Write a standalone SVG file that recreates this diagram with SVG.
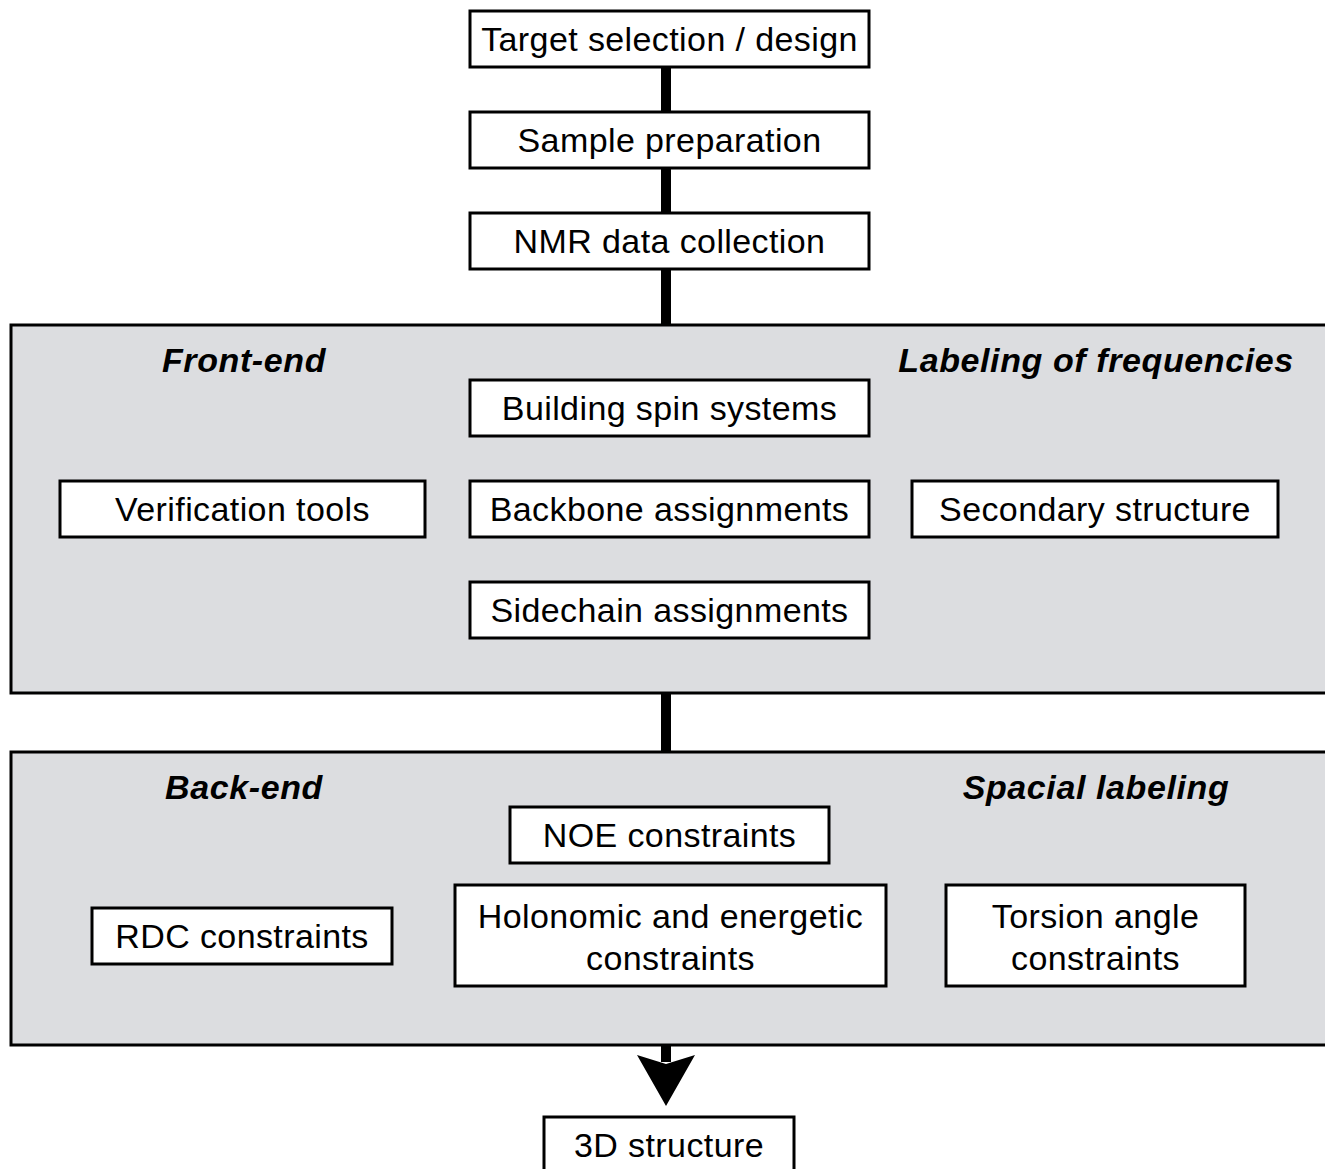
<svg xmlns="http://www.w3.org/2000/svg" width="1325" height="1169" viewBox="0 0 1325 1169">
<style>
.panel{fill:#dcdde0;stroke:#000;stroke-width:3}
.box{fill:#fff;stroke:#000;stroke-width:3}
.t{font-family:"Liberation Sans",Arial,sans-serif;font-size:34px;letter-spacing:0.4px;fill:#000;text-anchor:middle}
.h{font-family:"Liberation Sans",Arial,sans-serif;font-size:34px;letter-spacing:0.6px;font-weight:bold;font-style:italic;fill:#000;text-anchor:middle}
.c{stroke:#000;stroke-width:10;fill:none}
</style>
<rect width="1325" height="1169" fill="#fff"/>
<g id="connectors">
<line class="c" x1="666" y1="67" x2="666" y2="112"/>
<line class="c" x1="666" y1="168" x2="666" y2="213"/>
<line class="c" x1="666" y1="269" x2="666" y2="326"/>
<line class="c" x1="666" y1="693" x2="666" y2="752"/>
<line class="c" x1="666" y1="1045" x2="666" y2="1062"/>
<polygon points="637,1055 666,1064 695,1055 666,1106" fill="#000"/>
</g>
<g id="frontend-panel">
<rect class="panel" x="11" y="325" width="1330" height="368"/>
<text class="h" x="244" y="372">Front-end</text>
<text class="h" x="1096" y="372">Labeling of frequencies</text>
</g>
<g id="backend-panel">
<rect class="panel" x="11" y="752" width="1330" height="293"/>
<text class="h" x="244" y="799">Back-end</text>
<text class="h" x="1096" y="799">Spacial labeling</text>
</g>
<g id="target"><rect class="box" x="470" y="11" width="399" height="56"/><text class="t" x="669.5" y="51">Target selection / design</text></g>
<g id="sample"><rect class="box" x="470" y="112" width="399" height="56"/><text class="t" x="669.5" y="152">Sample preparation</text></g>
<g id="nmr"><rect class="box" x="470" y="213" width="399" height="56"/><text class="t" x="669.5" y="253">NMR data collection</text></g>
<g id="spin"><rect class="box" x="470" y="380" width="399" height="56"/><text class="t" x="669.5" y="420">Building spin systems</text></g>
<g id="verification"><rect class="box" x="60" y="481" width="365" height="56"/><text class="t" x="242.5" y="521">Verification tools</text></g>
<g id="backbone"><rect class="box" x="470" y="481" width="399" height="56"/><text class="t" x="669.5" y="521">Backbone assignments</text></g>
<g id="secondary"><rect class="box" x="912" y="481" width="366" height="56"/><text class="t" x="1095" y="521">Secondary structure</text></g>
<g id="sidechain"><rect class="box" x="470" y="582" width="399" height="56"/><text class="t" x="669.5" y="622">Sidechain assignments</text></g>
<g id="noe"><rect class="box" x="510" y="807" width="319" height="56"/><text class="t" x="669.5" y="847">NOE constraints</text></g>
<g id="rdc"><rect class="box" x="92" y="908" width="300" height="56"/><text class="t" x="242" y="948">RDC constraints</text></g>
<g id="holonomic"><rect class="box" x="455" y="885" width="431" height="101"/><text class="t" x="670.5" y="928">Holonomic and energetic</text><text class="t" x="670.5" y="970">constraints</text></g>
<g id="torsion"><rect class="box" x="946" y="885" width="299" height="101"/><text class="t" x="1095.5" y="928">Torsion angle</text><text class="t" x="1095.5" y="970">constraints</text></g>
<g id="structure"><rect class="box" x="544" y="1117" width="250" height="60"/><text class="t" x="669" y="1157">3D structure</text></g>
</svg>
